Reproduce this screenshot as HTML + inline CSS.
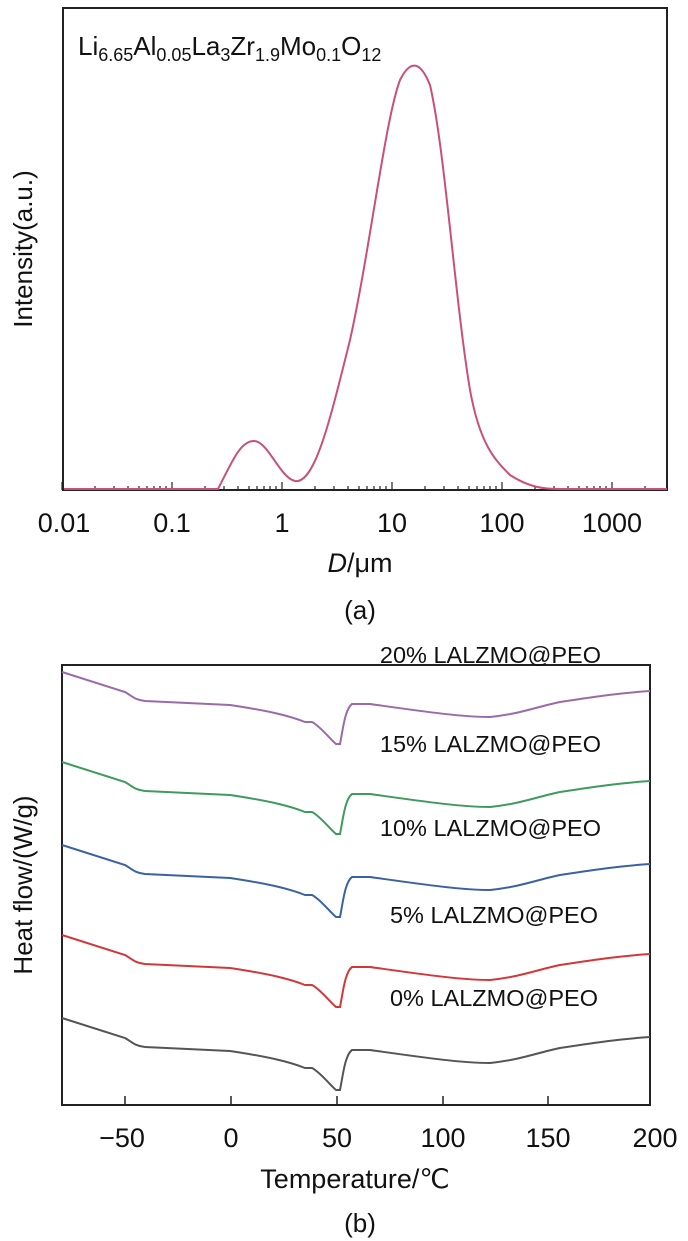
<!DOCTYPE html>
<html><head><meta charset="utf-8"><style>
body{margin:0;background:#fff}
svg{display:block}
text{font-family:"Liberation Sans",sans-serif;fill:#111}
</style></head><body>
<svg width="688" height="1241" viewBox="0 0 688 1241">
<!-- Top plot -->
<rect x="63" y="8" width="604" height="482" fill="none" stroke="#222" stroke-width="2"/>
<g stroke="#222" stroke-width="1.2">
<path d="M62 490v-8M172 490v-8M282 490v-8M392 490v-8M502 490v-8M612 490v-8"/>
<path d="M95 490v-4M114 490v-4M128 490v-4M139 490v-4M147 490v-4M154 490v-4M160 490v-4M166 490v-4
M205 490v-4M224 490v-4M238 490v-4M249 490v-4M257 490v-4M264 490v-4M270 490v-4M276 490v-4
M315 490v-4M334 490v-4M348 490v-4M359 490v-4M367 490v-4M374 490v-4M380 490v-4M386 490v-4
M425 490v-4M444 490v-4M458 490v-4M469 490v-4M477 490v-4M484 490v-4M490 490v-4M496 490v-4
M535 490v-4M554 490v-4M568 490v-4M579 490v-4M587 490v-4M594 490v-4M600 490v-4M606 490v-4M645 490v-4"/>
</g>
<path fill="none" stroke="#c8507a" stroke-width="2" d="M64,489 L218,489 C232,462 240,441 254,441 C268,441 280,478 295,481 C315,484 330,420 350,340 C370,250 385,120 400,80 C410,60 420,60 430,85 C445,150 455,300 470,390 C480,445 495,460 510,475 C530,488 545,489 560,489 L667,489"/>
<text x="78" y="55" font-size="26">Li<tspan font-size="18" dy="6">6.65</tspan><tspan dy="-6">Al</tspan><tspan font-size="18" dy="6">0.05</tspan><tspan dy="-6">La</tspan><tspan font-size="18" dy="6">3</tspan><tspan dy="-6">Zr</tspan><tspan font-size="18" dy="6">1.9</tspan><tspan dy="-6">Mo</tspan><tspan font-size="18" dy="6">0.1</tspan><tspan dy="-6">O</tspan><tspan font-size="18" dy="6">12</tspan></text>
<g font-size="27" text-anchor="middle">
<text x="64" y="532">0.01</text><text x="172" y="532">0.1</text><text x="282" y="532">1</text><text x="392" y="532">10</text><text x="502" y="532">100</text><text x="612" y="532">1000</text>
<text x="360" y="572"><tspan font-style="italic">D</tspan>/μm</text>
<text x="360" y="619" font-size="26">(a)</text>
</g>
<text transform="translate(32,249) rotate(-90)" font-size="26" text-anchor="middle">Intensity(a.u.)</text>

<!-- Bottom plot -->
<rect x="62" y="665" width="588" height="440" fill="none" stroke="#222" stroke-width="2"/>
<g stroke="#222" stroke-width="1.5"><path d="M125 1105v-9M231 1105v-9M337 1105v-9M443 1105v-9M548 1105v-9"/></g>
<defs><path id="c" fill="none" stroke-width="2" d="M62,1018 L125,1038 C132,1042 135,1046 145,1047 L230,1051 C270,1057 290,1062 305,1068 L312,1068 C320,1072 330,1085 336,1090 L340,1090 C343,1075 345,1055 352,1050 L370,1050 C420,1057 460,1063 490,1063 C520,1060 540,1052 560,1048 C600,1042 620,1039 650,1037"/></defs>
<use href="#c" stroke="#9b6aaa" transform="translate(0,-346)"/>
<use href="#c" stroke="#3f9a5e" transform="translate(0,-256)"/>
<use href="#c" stroke="#3a62a3" transform="translate(0,-173)"/>
<use href="#c" stroke="#d2373a" transform="translate(0,-83)"/>
<use href="#c" stroke="#555"/>
<g font-size="23.5" text-anchor="end">
<text x="601" y="663">20% LALZMO@PEO</text>
<text x="601" y="752">15% LALZMO@PEO</text>
<text x="601" y="836">10% LALZMO@PEO</text>
<text x="598" y="923">5% LALZMO@PEO</text>
<text x="598" y="1006">0% LALZMO@PEO</text>
</g>
<g font-size="27" text-anchor="middle">
<text x="122" y="1147">−50</text><text x="231" y="1147">0</text><text x="337" y="1147">50</text><text x="443" y="1147">100</text><text x="548" y="1147">150</text><text x="655" y="1147">200</text>
<text x="355" y="1188">Temperature/℃</text>
<text x="360" y="1232" font-size="26">(b)</text>
</g>
<text transform="translate(32,885) rotate(-90)" font-size="26" text-anchor="middle">Heat flow/(W/g)</text>
</svg>
</body></html>
